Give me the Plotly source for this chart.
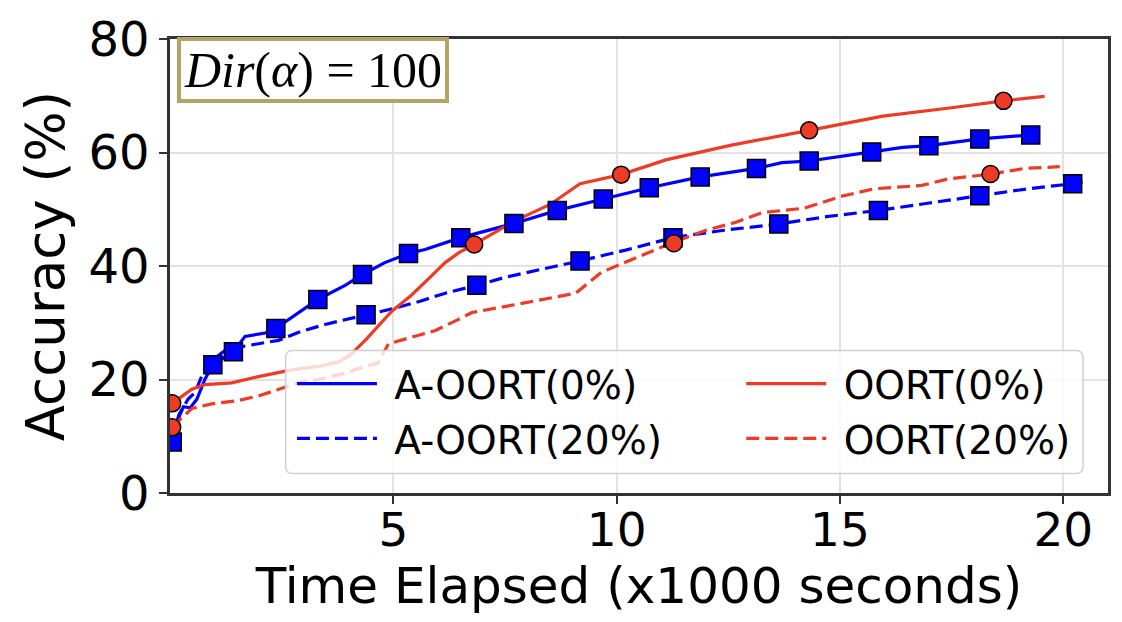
import plotly.graph_objects as go

# ---- data (time in x1000 s, accuracy in %) ----
aoort0_x = [0.05, 0.15, 0.3, 0.45, 0.6, 0.78, 0.96, 1.42, 1.68, 2.13, 2.37, 2.72, 3.31, 3.92, 4.31, 4.81,
            5.34, 5.71, 6.0, 6.51, 7.70, 8.67, 9.70, 10.73, 11.87, 12.5, 13.13, 13.7, 14.31, 15.71, 16.4,
            16.99, 18.13, 19.27]
aoort0_y = [9.0, 12.5, 15.2, 15.0, 16.5, 20.0, 22.6, 24.9, 27.6, 28.2, 29.0, 30.9, 34.1, 36.6, 38.5, 40.6,
            42.2, 42.9, 43.7, 45.0, 47.5, 49.8, 51.8, 53.8, 55.7, 56.5, 57.2, 58.2, 58.5, 60.1, 60.9,
            61.2, 62.4, 63.1]
aoort0_mx = [0.05, 0.96, 1.42, 2.37, 3.31, 4.31, 5.34, 6.51, 7.70, 8.67, 9.70, 10.73, 11.87, 13.13, 14.31,
             15.71, 16.99, 18.13, 19.27]
aoort0_my = [9.0, 22.6, 24.9, 29.0, 34.1, 38.5, 42.2, 45.0, 47.5, 49.8, 51.8, 53.8, 55.7, 57.2, 58.5,
             60.1, 61.2, 62.4, 63.1]

aoort20_x = [0.05, 0.2, 0.41, 0.56, 0.71, 0.86, 1.23, 1.53, 1.98, 2.43, 2.87, 3.47, 4.39, 5.0, 5.6, 6.2,
             6.87, 7.5, 8.3, 9.18, 10.2, 11.26, 12.4, 13.63, 14.7, 15.86, 17.0, 18.13, 19.2, 20.21, 20.45]
aoort20_y = [9.5, 13.8, 16.6, 17.7, 20.6, 22.9, 25.1, 25.7, 26.3, 26.9, 28.3, 29.7, 31.4, 32.5, 33.8, 35.3,
             36.6, 38.0, 39.4, 40.9, 42.8, 45.0, 46.3, 47.4, 48.7, 49.8, 51.1, 52.4, 53.6, 54.5, 54.8]
aoort20_mx = [4.39, 6.87, 9.18, 11.26, 13.63, 15.86, 18.13, 20.21]
aoort20_my = [31.4, 36.6, 40.9, 45.0, 47.4, 49.8, 52.4, 54.5]

oort0_x = [0.05, 0.49, 0.78, 1.38, 1.98, 2.72, 3.32, 3.77, 4.03, 4.37, 4.96, 5.41, 5.78, 6.16, 6.46, 6.81,
           7.73, 8.5, 9.18, 10.10, 11.1, 12.57, 14.31, 15.96, 17.41, 18.66, 19.58]
oort0_y = [15.8, 18.3, 19.1, 19.4, 20.5, 21.7, 22.3, 23.1, 24.3, 26.9, 32.0, 34.9, 37.7, 40.6, 42.3, 43.8,
           48.0, 50.8, 54.5, 56.1, 58.7, 61.3, 63.9, 66.4, 67.8, 69.1, 69.9]
oort0_mx = [0.05, 6.81, 10.10, 14.31, 18.66]
oort0_my = [15.8, 43.8, 56.1, 63.9, 69.1]

oort20_x = [0.05, 0.49, 0.93, 1.53, 1.98, 2.43, 2.87, 3.32, 3.92, 4.37, 4.66, 4.89, 5.41, 5.93, 6.46, 6.76,
            7.73, 9.08, 9.66, 10.44, 11.21, 12.0, 12.67, 13.25, 14.21, 14.99, 15.76, 16.83, 17.4, 18.37,
            19.14, 19.92]
oort20_y = [11.6, 14.9, 15.7, 16.3, 17.1, 18.3, 19.4, 20.0, 21.1, 22.3, 22.9, 26.3, 27.4, 28.6, 30.6, 31.8,
            33.2, 35.2, 38.9, 41.4, 44.0, 46.3, 47.7, 49.4, 50.2, 52.2, 53.6, 54.2, 55.3, 56.2,
            57.2, 57.5]
oort20_mx = [0.05, 11.28, 18.37]
oort20_my = [11.6, 44.0, 56.2]

x_ticks = [5, 10, 15, 20]
y_ticks = [0, 20, 40, 60, 80]

BLUE = "#0000ff"
RED = "#ee3b26"
DASH = "13px,6px"

fig = go.Figure()

lines = [
    ("A-OORT(0%)", aoort0_x, aoort0_y, BLUE, "solid", "legend"),
    ("A-OORT(20%)", aoort20_x, aoort20_y, BLUE, DASH, "legend"),
    ("OORT(0%)", oort0_x, oort0_y, RED, "solid", "legend2"),
    ("OORT(20%)", oort20_x, oort20_y, RED, DASH, "legend2"),
]
for name, xs, ys, c, d, lg in lines:
    fig.add_trace(go.Scatter(x=xs, y=ys, mode="lines", name="\u00a0" + name, legend=lg, legendgroup=name,
                             line=dict(color=c, width=3.2, dash=d)))

markers = [
    (aoort0_mx, aoort0_my, BLUE, "square"),
    (aoort20_mx, aoort20_my, BLUE, "square"),
    (oort0_mx, oort0_my, RED, "circle"),
    (oort20_mx, oort20_my, RED, "circle"),
]
for xs, ys, c, sym in markers:
    fig.add_trace(go.Scatter(x=xs, y=ys, mode="markers", showlegend=False,
                             marker=dict(color=c, symbol=sym, size=18 if sym == "square" else 17,
                                         line=dict(color="black", width=1.5))))

fig.add_annotation(
    xref="paper", yref="paper", x=0.007, y=1.005, xanchor="left", yanchor="top",
    text="<i>Dir</i>(<i>α</i>) = 100", showarrow=False,
    font=dict(family="Liberation Serif", size=50, color="black"),
    width=262, height=56, align="center",
    bgcolor="white", bordercolor="#b5a267", borderwidth=4, borderpad=1,
)

# legend frame (rounded, semi-transparent) shared by the two legend columns
x0, x1, y0, y1 = 0.1233, 0.9734, 0.043, 0.314
rx, ry = 0.0075, 0.015
frame = (f"M{x0+rx},{y1} L{x1-rx},{y1} Q{x1},{y1} {x1},{y1-ry} L{x1},{y0+ry} Q{x1},{y0} {x1-rx},{y0} "
         f"L{x0+rx},{y0} Q{x0},{y0} {x0},{y0+ry} L{x0},{y1-ry} Q{x0},{y1} {x0+rx},{y1} Z")
fig.add_shape(type="path", xref="paper", yref="paper", path=frame, layer="above",
              fillcolor="rgba(255,255,255,0.8)", line=dict(color="#d0d0d0", width=1.5))

leg_common = dict(orientation="v", xanchor="left", yanchor="top", y=0.311,
                  font=dict(size=39), bgcolor="rgba(0,0,0,0)", borderwidth=0,
                  itemwidth=80, tracegroupgap=1)
fig.update_layout(
    width=1122, height=622,
    margin=dict(l=170, r=11, t=28, b=129),
    paper_bgcolor="white", plot_bgcolor="white",
    font=dict(family="DejaVu Sans", color="black"),
    legend=dict(x=0.130, **leg_common),
    legend2=dict(x=0.609, **leg_common),
    xaxis=dict(range=[0, 21], tickvals=x_ticks, ticks="outside", ticklen=8, tickwidth=2,
               tickcolor="#333", tickfont=dict(size=47), ticklabelstandoff=-14,
               ticklabeloverflow="allow",
               showline=True, linecolor="#333", linewidth=2.5, mirror=True,
               showgrid=True, gridcolor="#e3e3e3", gridwidth=1.5, zeroline=False,
               title=dict(text="Time Elapsed (x1000 seconds)", font=dict(size=50), standoff=6)),
    yaxis=dict(range=[0, 80], tickvals=y_ticks, ticks="outside", ticklen=8, tickwidth=2,
               tickcolor="#333", tickfont=dict(size=48), ticklabeloverflow="allow",
               showline=True, linecolor="#333", linewidth=2.5, mirror=True,
               showgrid=True, gridcolor="#e3e3e3", gridwidth=1.5, zeroline=False,
               title=dict(text="Accuracy (%)", font=dict(size=53), standoff=8)),
)

fig.write_html("out.html")
